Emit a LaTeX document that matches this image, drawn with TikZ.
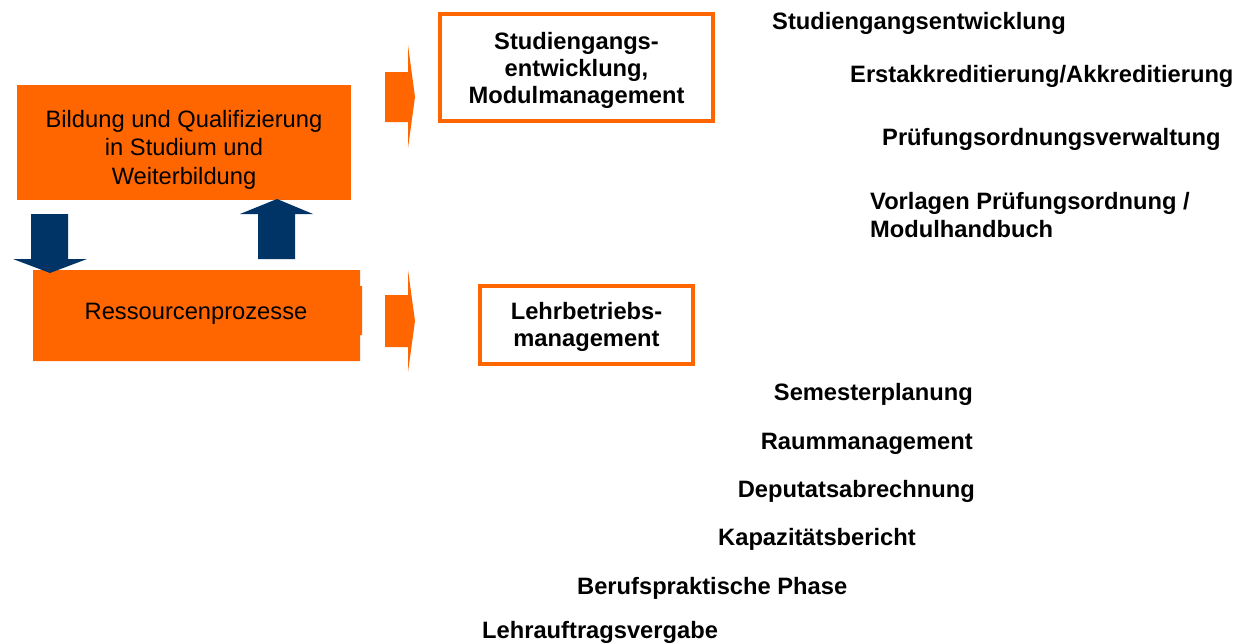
\documentclass[tikz,border=0pt]{standalone}
\usepackage{fontspec}
\setmainfont{Liberation Sans}
\definecolor{orng}{HTML}{FF6600}
\definecolor{navy}{HTML}{003366}
\begin{document}
\begin{tikzpicture}[x=1pt,y=-1pt,
  bigtxt/.style={font=\fontsize{23.7}{28.5}\selectfont, inner sep=0pt},
  boldtxt/.style={font=\bfseries\fontsize{23.7}{27}\selectfont, inner sep=0pt},
  item/.style={font=\bfseries\fontsize{23.7}{28}\selectfont, inner sep=0pt},
  framebox/.style={draw=orng, line width=4pt, fill=white},
  orfill/.style={fill=orng, draw=none},
  nvfill/.style={fill=navy, draw=none}]
\useasboundingbox (0,0) rectangle (1238,642);
\fill[white] (0,0) rectangle (1238,642);

% left orange boxes
\fill[orng] (17,85) rectangle (351,200);
\coordinate (b1) at (184,142);
\fill[orng] (33,270) -- (360,270) -- (360,286) -- (362,286) -- (362,335) -- (360,335) -- (360,361) -- (33,361) -- cycle;
\node[bigtxt, anchor=base, align=center] (bq) at (184,127)
  {\begin{tabular}[t]{@{}c@{}}Bildung und Qualifizierung\\in Studium und\\Weiterbildung\end{tabular}};
\node[bigtxt, anchor=base] (rp) at (196,319) {Ressourcenprozesse};

% navy arrows
\fill[navy] (31,214) -- (68,214) -- (68,259) -- (87,259) -- (50,273) -- (13,259) -- (31,259) -- cycle;
\fill[navy] (258,259) -- (258,214) -- (240,214) -- (277,199) -- (313,214) -- (295,214) -- (295,259) -- cycle;

% orange right arrows
\fill[orng] (385,72) -- (408,72) -- (408,45) -- (415,97) -- (408,148) -- (408,122) -- (385,122) -- cycle;
\fill[orng] (385,295) -- (408,295) -- (408,270) -- (415,321) -- (408,372) -- (408,347) -- (385,347) -- cycle;

% framed boxes
\draw[framebox] (440,14) rectangle (713,121);
\draw[framebox] (480,286) rectangle (693,364);
\node[boldtxt, anchor=base] (sg) at (576.5,50)
  {\begin{tabular}[t]{@{}c@{}}Studiengangs-\\entwicklung,\\Modulmanagement\end{tabular}};
\node[boldtxt, anchor=base] (lb) at (586.5,319)
  {\begin{tabular}[t]{@{}c@{}}Lehrbetriebs-\\management\end{tabular}};

% upper items
\node[item, anchor=base west] (i1) at (772,30) {Studiengangsentwicklung};
\node[item, anchor=base west] (i2) at (850,82) {Erstakkreditierung/Akkreditierung};
\node[item, anchor=base west] (i3) at (882,145) {Prüfungsordnungsverwaltung};
\node[item, anchor=base west] (i4) at (870,209)
  {\begin{tabular}[t]{@{}l@{}}Vorlagen Prüfungsordnung /\\Modulhandbuch\end{tabular}};

% lower items
\node[item, anchor=base east] (j1) at (973,400) {Semesterplanung};
\node[item, anchor=base east] (j2) at (973,449) {Raummanagement};
\node[item, anchor=base east] (j3) at (975,497) {Deputatsabrechnung};
\node[item, anchor=base west] (j4) at (718,545) {Kapazitätsbericht};
\node[item, anchor=base west] (j5) at (577,594) {Berufspraktische Phase};
\node[item, anchor=base west] (j6) at (482,638) {Lehrauftragsvergabe};
\end{tikzpicture}
\end{document}
